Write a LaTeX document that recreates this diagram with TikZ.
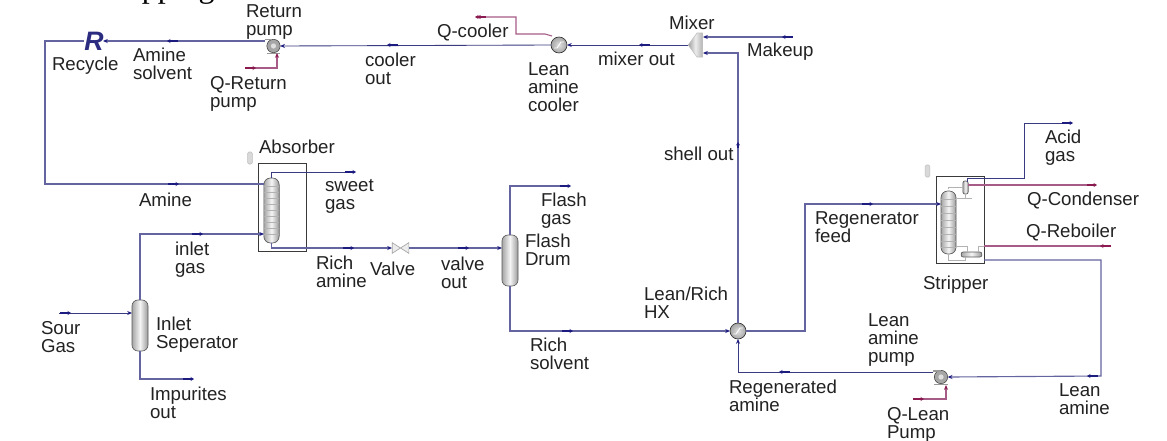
\documentclass[tikz,border=0pt]{standalone}
\usepackage{fontspec}
\setmainfont{Liberation Sans}
\newfontfamily\titlefont{Liberation Serif}
\usetikzlibrary{arrows.meta,calc}
\definecolor{lineA}{HTML}{6464A0}
\definecolor{lineB}{HTML}{3A3A80}
\definecolor{navyM}{HTML}{1C1C80}
\definecolor{heatL}{HTML}{A65C86}
\definecolor{heatM}{HTML}{8A1A50}
\definecolor{labelC}{HTML}{222222}
\definecolor{frameC}{HTML}{3A3A3A}
\newcommand{\flowmark}[5][navyM]{\draw[flowtick,draw=#1] (#2,#3) -- (#4,#5);}
\tikzset{
  x=0.75pt,y=-0.75pt,
  lab/.style={font=\fontsize{14}{13.5}\selectfont,text=labelC,align=left,anchor=north west,inner sep=0pt,outer sep=0pt,execute at begin node={\rule{0pt}{10pt}}},
  stream/.style={draw=lineA,line width=0.85pt},
  streamdark/.style={draw=lineB,line width=0.65pt},
  heat/.style={draw=heatL,line width=0.8pt},
  inner/.style={draw=gray!60,line width=0.6pt},
  endtip/.style={-{Stealth[length=3.6pt,width=3pt,color=navyM]}},
  heattip/.style={-{Stealth[length=3.6pt,width=3pt,color=heatM]}},
  flowtick/.style={line width=1.2pt,-{Stealth[length=2.6pt,width=3pt]}},
  vessel/.style={draw=gray!70!black,line width=0.5pt,rounded corners=4.5pt,left color=gray!70,right color=gray!80,middle color=gray!8,inner sep=0pt,outer sep=0pt},
  exch/.style={circle,draw=gray!40!black,line width=0.5pt,inner color=gray!25,outer color=gray!70,minimum size=12pt,inner sep=0pt,outer sep=0pt},
  pumpc/.style={circle,draw=gray!50!black,line width=0.4pt,fill=gray!70,minimum size=10pt,inner sep=0pt,outer sep=0pt},
  framebox/.style={draw=frameC,line width=0.7pt,inner sep=0pt,outer sep=0pt,fill=none},
  blob/.style={draw=gray!50,fill=gray!30,rounded corners=1pt,minimum width=3.5pt,minimum height=9pt,inner sep=0pt},
}
\begin{document}
\begin{tikzpicture}
\useasboundingbox (0,0) rectangle (1167,440);
\clip (0,0) rectangle (1167,440);
\fill[white] (0,0) rectangle (1167,440);

\node[anchor=base east,inner sep=0pt,font=\titlefont\fontsize{24}{24}\selectfont] (cut) at (215,-3) {pping};

% equipment
\node[framebox,minimum width=36pt,minimum height=66pt] (absf) at (282.5,207) {};
\node[vessel,minimum width=11.5pt,minimum height=48.75pt,rounded corners=5pt] (abs) at (271.5,210.5) {};
\foreach \yy in {186,192,198,204,210,216,222,228,234}
  \draw[gray!60,line width=0.35pt] (264,\yy) -- (279,\yy);
\node[blob] (absb) at (250,158) {};

\node[vessel,minimum width=12pt,minimum height=38.25pt] (sep) at (140,325.5) {};
\node[vessel,minimum width=12pt,minimum height=38.25pt] (drum) at (510,260.5) {};

\node[framebox,minimum width=36pt,minimum height=65.25pt] (strf) at (960,219.5) {};
\node[vessel,minimum width=11.25pt,minimum height=47.25pt,rounded corners=5pt] (str) at (948.5,222.5) {};
\foreach \yy in {199,206,213,220,227,234,241,247}
  \draw[gray!60,line width=0.3pt] (941,\yy) -- (956,\yy);
\node[vessel,minimum width=4pt,minimum height=9.75pt,rounded corners=1.5pt] (cond) at (965.5,187.5) {};
\node[vessel,minimum width=15.5pt,minimum height=3.75pt,rounded corners=1.5pt] (reb) at (971.5,254.5) {};
\node[blob] (strb) at (927.5,171) {};
\draw[inner] (str.north) ++(0,-2) |- (cond.west);
\draw[inner] (957,198) -- (972,198);
\draw[inner] (cond.south) -- (965.5,198);
\draw[inner] (956,246) -- (967,246) -- (967,252);
\draw[inner] (948.5,254) -- (948.5,260) -- (965,260) -- (965,257);
\draw[inner] (978,252) -- (978,246) -- (984,246);

% valve, mixer
\node[inner sep=0pt,outer sep=0pt,minimum width=12.5pt,minimum height=8pt] (valve) at (400.5,248) {};
\draw[gray!70,fill=gray!15,line width=0.5pt] (valve.north west) -- (valve.south east) -- (valve.north east) -- (valve.south west) -- cycle;
\node[inner sep=0pt,outer sep=0pt,minimum width=11pt,minimum height=18pt] (mixer) at (695.5,45) {};
\draw[gray!50,line width=0.4pt,left color=gray!75,right color=gray!60,middle color=gray!15] (mixer.west) -- (697,33) -- (702.5,33) -- (702.5,57) -- (697,57) -- cycle;

% exchangers and pumps
\node[exch] (cooler) at (559,45) {};
\draw[white,line width=0.7pt] (554,48) -- (557,48) -- (561,42) -- (564,42);
\node[exch] (hx) at (738,331) {};
\draw[white,line width=0.7pt] (733,334) -- (736,334) -- (740,328) -- (743,328);
\node[pumpc] (rpump) at (273.5,46) {};
\fill[gray!25] (273.5,46) circle (2.6);
\draw[gray!80,line width=1pt] (264.5,39.5) -- (272,39.5) (267,53.5) -- (280,53.5);
\node[pumpc] (lpump) at (941,377) {};
\fill[gray!25] (941,377) circle (2.6);
\draw[gray!80,line width=1pt] (933,371) -- (941,371) (934,384.5) -- (948,384.5);

\node[inner sep=0pt,font=\fontsize{20}{20}\selectfont\bfseries\itshape,text=navyM!85!gray] (recy) at (94,41.5) {R};

% free ends
\coordinate (sourS) at (59,313);
\coordinate (impE) at (193,379);
\coordinate (sweetE) at (355,172);
\coordinate (flashE) at (570,186);
\coordinate (acidE) at (1072,123);
\coordinate (mkS) at (792,37);
\coordinate (qcE) at (476,17);
\coordinate (qrS) at (245,68);
\coordinate (qlS) at (913,399);
\coordinate (qcdE) at (1096,185);
\coordinate (qrbS) at (1110,246);

% streams
\draw[stream,endtip] (265,41) -- (103,41);
\draw[stream] (recy.west |- 0,41) -- (45,41) -- (45,184) -- (264,184);
\draw[streamdark,endtip] (551,45) -- (rpump.east);
\draw[streamdark,endtip] (mixer.west) -- (cooler.east);
\draw[stream,endtip] (hx.north) -- (738,53) -- (703,53);
\draw[stream,endtip] (mkS) -- (703,37);
\draw[streamdark,endtip] (sourS) -- (132,313);
\draw[stream,endtip] (sep.north) -- (140,234) -- (264,234);
\draw[stream] (sep.south) -- (140,379) -- (impE);
\draw[streamdark] (271.5,178) -- (271.5,172) -- (sweetE);
\draw[stream,endtip] (271.5,243) -- (271.5,248) -- (392,248);
\draw[stream,endtip] (valve.east) -- (502,248);
\draw[stream] (drum.north) -- (510,186) -- (flashE);
\draw[stream,endtip] (drum.south) -- (510,331) -- (hx.west);
\draw[stream] (hx.east) -- (805,331) -- (805,204) -- (935,204);
\draw[stream,endtip] (935,204) -- (941,204);
\draw[streamdark] (967,182) -- (967,178) -- (1024,178) -- (1024,123) -- (acidE);
\draw[stream,endtip] (984,260) -- (1101,260) -- (1101,376) -- (lpump.east);
\draw[streamdark,endtip] (933,372) -- (738,372) -- (hx.south);

% heat streams
\draw[heat,heattip] (552,36) -- (545,34) -- (516,34) -- (516,17) -- (qcE);
\draw[heat,heattip] (qrS) -- (277,68) -- (277,53);
\draw[heat,heattip] (qlS) -- (946,399) -- (946,385);
\draw[heat] (cond.east) ++(0,-2.5) -- (qcdE);
\draw[heat] (qrbS) -- (984,246);

% flow ticks
\flowmark{178}{41}{167}{41}
\flowmark{168}{184}{179}{184}
\flowmark{398}{45}{387}{45}
\flowmark{650}{45}{639}{45}
\flowmark{60}{313}{71}{313}
\flowmark{192}{234}{203}{234}
\flowmark{183}{379}{194}{379}
\flowmark{345}{172}{356}{172}
\flowmark{343}{248}{354}{248}
\flowmark{458}{248}{469}{248}
\flowmark{560}{186}{571}{186}
\flowmark{562}{331}{573}{331}
\flowmark{738}{148}{738}{142}
\flowmark{793}{37}{782}{37}
\flowmark{862}{204}{873}{204}
\flowmark{1062}{123}{1073}{123}
\flowmark{1098}{376}{1087}{376}
\flowmark{790}{372}{779}{372}
\flowmark[heatM]{486}{17}{475}{17}
\flowmark[heatM]{245}{68}{256}{68}
\flowmark[heatM]{913}{399}{924}{399}
\flowmark[heatM]{1087}{185}{1097}{185}
\flowmark[heatM]{1111}{246}{1100}{246}

% labels
\node[lab] (l1) at (246,5) {Return\\pump};
\node[lab] (l2) at (52,57) {Recycle};
\node[lab] (l3) at (133,48) {Amine\\solvent};
\node[lab] (l4) at (210,76) {Q-Return\\pump};
\node[lab] (l5) at (139,193) {Amine};
\node[lab] (l6) at (259,140) {Absorber};
\node[lab] (l7) at (325,179) {sweet\\gas};
\node[lab] (l8) at (365,53) {cooler\\out};
\node[lab] (l9) at (437,24) {Q-cooler};
\node[lab] (l10) at (528,63) {Lean\\amine\\cooler};
\node[lab] (l11) at (598,52) {mixer out};
\node[lab] (l12) at (669,16) {Mixer};
\node[lab] (l13) at (747,43) {Makeup};
\node[lab] (l14) at (664,147) {shell out};
\node[lab] (l15) at (175,242) {inlet\\gas};
\node[lab] (l16) at (316,256) {Rich\\amine};
\node[lab] (l17) at (41,321) {Sour\\Gas};
\node[lab] (l18) at (156,317) {Inlet\\Seperator};
\node[lab] (l19) at (150,387) {Impurites\\out};
\node[lab] (l20) at (541,193) {Flash\\gas};
\node[lab] (l21) at (525,234) {Flash\\Drum};
\node[lab] (l22) at (370,262) {Valve};
\node[lab] (l23) at (441,257) {valve\\out};
\node[lab] (l24) at (644,287) {Lean/Rich\\HX};
\node[lab] (l25) at (530,338) {Rich\\solvent};
\node[lab] (l26) at (815,212) {Regenerator\\feed};
\node[lab] (l27) at (1045,130) {Acid\\gas};
\node[lab] (l28) at (1027,192) {Q-Condenser};
\node[lab] (l29) at (1026,224) {Q-Reboiler};
\node[lab] (l30) at (923,276) {Stripper};
\node[lab] (l31) at (729,380) {Regenerated\\amine};
\node[lab] (l32) at (868,314) {Lean\\amine\\pump};
\node[lab] (l33) at (887,407) {Q-Lean\\Pump};
\node[lab] (l34) at (1059,384) {Lean\\amine};
\end{tikzpicture}
\end{document}
